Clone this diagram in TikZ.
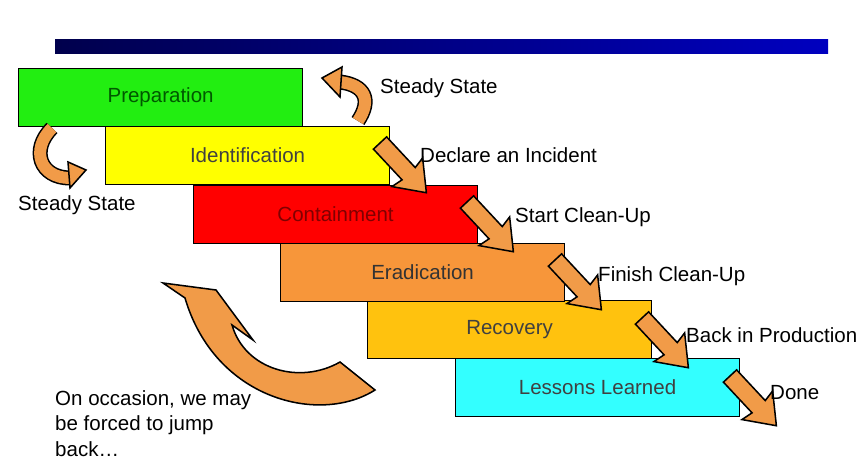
\documentclass[tikz,border=0pt]{standalone}
\usepackage{fontspec}
\setmainfont{Liberation Sans}
\definecolor{arr}{HTML}{F19B48}
\definecolor{cgreen}{HTML}{22EE11}
\definecolor{cyel}{HTML}{FFFF00}
\definecolor{cred}{HTML}{FF0000}
\definecolor{corg}{HTML}{F7963A}
\definecolor{cgold}{HTML}{FFC20E}
\definecolor{ccyan}{HTML}{33FFFF}
\newcommand\blkarr[2]{\fill[arr,draw=black,line width=1.3pt,shift={(#1,#2)},rotate=-47]
 (0,-9)--(42,-9)--(40,-21)--(68,0)--(40,21)--(42,9)--(0,9)--cycle;}
\begin{document}
\begin{tikzpicture}[x=0.03cm,y=-0.03cm,
  stage/.style={draw=black,line width=1pt,minimum width=284*0.03cm,minimum height=58*0.03cm,anchor=north west,inner sep=0pt,font=\fontsize{17.5}{20}\selectfont},
  lbl/.style={anchor=west,font=\fontsize{17.5}{20}\selectfont,inner sep=0pt}]
\useasboundingbox (0,0) rectangle (867,461);
\fill[white] (0,0) rectangle (867,461);
\shade[left color=blue!30!black,right color=blue!75!black] (55,40) rectangle (828,54);
% big curved arrow
\fill[arr,draw=black,line width=1.3pt] (163,283) -- (216,290) -- (253,340) -- (232,325)
  .. controls (245,370) and (300,385) .. (340,362) -- (375,390)
  .. controls (320,425) and (215,400) .. (185,298) -- cycle;
% stages
\node[stage,fill=ccyan,text=black!75] (l) at (455,358) {Lessons Learned};
\node[stage,fill=cgold,text=black!75] (r) at (367,300) {Recovery};
\node[stage,fill=corg,text=black!80] (e) at (280,243) {Eradication};
\node[stage,fill=cred,text=red!50!black] (c) at (193,185) {Containment};
\node[stage,fill=cyel,text=black!75] (i) at (105,126) {Identification};
\node[stage,fill=cgreen,text=green!35!black] (p) at (18,68) {Preparation};
% diagonal arrows
\blkarr{380}{143}
\blkarr{467}{202}
\blkarr{555}{260}
\blkarr{642}{318}
\blkarr{730}{376}
% top curly arrow
\draw[black,line width=12*0.03cm+2.6pt] (358,121) .. controls (372,100) and (365,85) .. (340,82);
\draw[arr,line width=12*0.03cm] (358,121) .. controls (372,100) and (365,85) .. (340,82);
\fill[arr,draw=black,line width=1.3pt] (322,78) -- (342,67) -- (340,97) -- cycle;
% left curly arrow
\draw[black,line width=12*0.03cm+2.6pt] (52,128) .. controls (30,150) and (40,178) .. (70,178);
\draw[arr,line width=12*0.03cm] (52,128) .. controls (30,150) and (40,178) .. (70,178);
\fill[arr,draw=black,line width=1.3pt] (86,170) -- (68,162) -- (70,188) -- cycle;
% labels
\node[lbl] (t1) at (380,88) {Steady State};
\node[lbl] (t2) at (18,205) {Steady State};
\node[lbl] (t3) at (420,155) {Declare an Incident};
\node[lbl] (t4) at (515,217) {Start Clean-Up};
\node[lbl] (t5) at (598,276) {Finish Clean-Up};
\node[lbl] (t6) at (686,335) {Back in Production};
\node[lbl] (t7) at (770,393) {Done};
\node[lbl,anchor=north west,align=left,font=\fontsize{17.5}{22}\selectfont] (t8) at (55,390) {On occasion, we may\\be forced to jump\\back\dots};
\end{tikzpicture}
\end{document}
